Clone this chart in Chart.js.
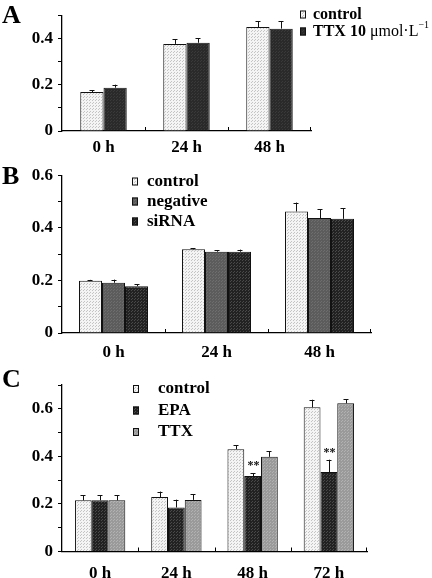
<!DOCTYPE html>
<html>
<head>
<meta charset="utf-8">
<script src="https://cdn.jsdelivr.net/npm/chart.js@4.4.1/dist/chart.umd.min.js"></script>
<style>
  body { margin: 0; background: #fff; }
  #wrap { position: relative; width: 432px; height: 578px; overflow: hidden; }
  canvas { position: absolute; left: 0; }
  .lab { position: absolute; left: 2px; font: bold 26px "Liberation Serif", serif; line-height: 26px; }
</style>
</head>
<body>
<div id="wrap">
  <canvas id="cA" width="432" height="160" style="top:0px"></canvas>
  <canvas id="cB" width="432" height="200" style="top:160px"></canvas>
  <canvas id="cC" width="432" height="218" style="top:360px"></canvas>
  <div class="lab" style="top:2px">A</div>
  <div class="lab" style="top:163px">B</div>
  <div class="lab" style="top:366px">C</div>
</div>
<script>
// panel A
const catsA = ['0 h', '24 h', '48 h'];
const aControl = [0.168, 0.376, 0.449];
const aControlErr = [0.009, 0.020, 0.026];
const aTTX = [0.187, 0.381, 0.442];
const aTTXErr = [0.013, 0.019, 0.033];

// panel B
const catsB = ['0 h', '24 h', '48 h'];
const bControl = [0.199, 0.318, 0.462];
const bControlErr = [0.003, 0.005, 0.034];
const bNegative = [0.191, 0.309, 0.437];
const bNegativeErr = [0.012, 0.005, 0.034];
const bSiRNA = [0.178, 0.309, 0.434];
const bSiRNAErr = [0.008, 0.008, 0.040];

// panel C
const catsC = ['0 h', '24 h', '48 h', '72 h'];
const cControl = [0.215, 0.229, 0.430, 0.606];
const cControlErr = [0.022, 0.023, 0.016, 0.032];
const cEPA = [0.215, 0.185, 0.317, 0.334];
const cEPAErr = [0.022, 0.033, 0.013, 0.052];
const cEPAStars = ['', '', '**', '**'];
const cTTX = [0.215, 0.217, 0.398, 0.623];
const cTTXErr = [0.022, 0.024, 0.024, 0.018];

const FONT = '"Liberation Serif", "Times New Roman", serif';

// small dotted textures like the print
function pattern(bg, dot) {
  const c = document.createElement('canvas');
  c.width = 3; c.height = 3;
  const g = c.getContext('2d');
  g.fillStyle = bg; g.fillRect(0, 0, 3, 3);
  g.fillStyle = dot; g.fillRect(0, 0, 1, 1); g.fillRect(2, 1, 1, 1);
  return g.createPattern(c, 'repeat');
}
const light = pattern('#f4f4f4', '#c4c4c4');
const dark = pattern('#222222', '#4a4a4a');
const darkA = pattern('#2a2a2a', '#3a3a3a');
const mid = pattern('#5c5c5c', '#6e6e6e');
const grey = pattern('#9a9a9a', '#b2b2b2');

// error bars (upper half only) with a small cap
const errorBars = {
  id: 'errorBars',
  afterDatasetsDraw(chart) {
    const ctx = chart.ctx;
    const y = chart.scales.y;
    ctx.save();
    ctx.strokeStyle = '#111';
    ctx.lineWidth = 1;
    ctx.fillStyle = '#111';
    ctx.font = 'bold 12px ' + FONT;
    ctx.textAlign = 'center';
    chart.data.datasets.forEach((ds, i) => {
      chart.getDatasetMeta(i).data.forEach((bar, j) => {
        const top = y.getPixelForValue(ds.data[j] + ds.errors[j]);
        const x = Math.round(bar.x) + 0.5;
        ctx.beginPath();
        ctx.moveTo(x, bar.y);
        ctx.lineTo(x, top);
        ctx.moveTo(x - 3, Math.round(top) + 0.5);
        ctx.lineTo(x + 2, Math.round(top) + 0.5);
        ctx.stroke();
        if (ds.stars && ds.stars[j]) {
          ctx.textBaseline = 'alphabetic';
          ctx.fillText(ds.stars[j], x, top - 4);
        }
      });
    });
    ctx.restore();
  }
};

// small upward ticks on the x axis between groups
const xTicks = {
  id: 'xTicks',
  afterDraw(chart) {
    const ctx = chart.ctx;
    const x = chart.scales.x;
    const n = chart.data.labels.length;
    ctx.save();
    ctx.strokeStyle = '#000';
    ctx.lineWidth = 1;
    for (let i = 1; i <= n; i++) {
      const px = i < n ? Math.round((x.getPixelForValue(i - 1) + x.getPixelForValue(i)) / 2) + 0.5 : x.right - 0.5;
      ctx.beginPath();
      ctx.moveTo(px, x.top);
      ctx.lineTo(px, x.top - 4);
      ctx.stroke();
    }
    ctx.restore();
  }
};

// legend with tiny boxes; a label can come in parts (weight / superscript)
const boxLegend = {
  id: 'boxLegend',
  afterDraw(chart, args, o) {
    const ctx = chart.ctx;
    ctx.save();
    ctx.textBaseline = 'middle';
    ctx.textAlign = 'left';
    chart.data.datasets.forEach((ds, i) => {
      const y = o.y + i * o.gap;
      ctx.fillStyle = ds.backgroundColor;
      ctx.fillRect(o.boxX, y - 4, 6, 8);
      ctx.strokeStyle = '#111';
      ctx.lineWidth = 1;
      ctx.strokeRect(o.boxX + 0.5, y - 3.5, 5, 7);
      ctx.fillStyle = '#000';
      const parts = ds.legendParts || [{ t: ds.label }];
      let x = o.textX;
      parts.forEach(p => {
        const size = p.sup ? Math.round(o.size * 0.62) : o.size;
        ctx.font = (p.w || 'bold') + ' ' + size + 'px ' + FONT;
        ctx.fillText(p.t, x, y + (p.sup ? -6 : 0));
        x += ctx.measureText(p.t).width;
      });
    });
    ctx.restore();
  }
};

function makeChart(id, labels, datasets, o) {
  return new Chart(document.getElementById(id), {
    type: 'bar',
    data: { labels: labels, datasets: datasets },
    options: {
      responsive: false,
      animation: false,
      layout: { padding: { left: 0, right: o.right, top: o.top, bottom: 0 } },
      datasets: { bar: { categoryPercentage: o.cat, barPercentage: 1, borderWidth: 1, borderColor: '#111' } },
      plugins: {
        legend: { display: false },
        tooltip: { enabled: false },
        boxLegend: o.legend
      },
      scales: {
        x: {
          afterFit: s => { s.height = o.xh; },
          grid: { display: false },
          border: { display: true, color: '#000', width: 1.3 },
          ticks: { color: '#000', padding: o.xpad, font: { family: FONT, size: 17, weight: 'bold' } }
        },
        y: {
          min: 0,
          max: o.max,
          afterFit: s => { s.width = 62; },
          afterBuildTicks: s => {
            s.ticks = [];
            for (let k = 0; k <= Math.round(o.max * 10); k++) s.ticks.push({ value: k / 10 });
          },
          grid: { drawOnChartArea: false, drawTicks: true, tickLength: 4, color: '#000' },
          border: { display: true, color: '#000', width: 1.3 },
          ticks: {
            color: '#000',
            padding: 5,
            autoSkip: false,
            font: { family: FONT, size: 17, weight: 'bold' },
            callback: v => {
              const k = Math.round(v * 10);
              if (k % 2) return '';
              return k === 0 ? '0' : (k / 10).toFixed(1);
            }
          }
        }
      }
    },
    plugins: [errorBars, xTicks, boxLegend]
  });
}

makeChart('cA', catsA, [
  { label: 'control', data: aControl, errors: aControlErr, backgroundColor: light },
  { label: 'TTX 10 \u03bcmol\u00b7L\u207b\u00b9', data: aTTX, errors: aTTXErr, backgroundColor: darkA,
    legendParts: [{ t: 'TTX 10 ' }, { t: '\u03bcmol\u00b7L', w: 'normal' }, { t: '\u22121', w: 'normal', sup: true }] }
], { right: 121, top: 15, xh: 29, xpad: -2, cat: 0.56, max: 0.5,
     legend: { boxX: 300, textX: 313, y: 14.5, gap: 17, size: 16 } });

makeChart('cB', catsB, [
  { label: 'control', data: bControl, errors: bControlErr, backgroundColor: light },
  { label: 'negative', data: bNegative, errors: bNegativeErr, backgroundColor: mid },
  { label: 'siRNA', data: bSiRNA, errors: bSiRNAErr, backgroundColor: dark }
], { right: 61, top: 15, xh: 27, xpad: 1, cat: 0.67, max: 0.6,
     legend: { boxX: 132, textX: 147, y: 21.5, gap: 20, size: 17 } });

makeChart('cC', catsC, [
  { label: 'control', data: cControl, errors: cControlErr, backgroundColor: light },
  { label: 'EPA', data: cEPA, errors: cEPAErr, stars: cEPAStars, backgroundColor: dark },
  { label: 'TTX', data: cTTX, errors: cTTXErr, backgroundColor: grey }
], { right: 65, top: 25, xh: 26.5, xpad: 4, cat: 0.66, max: 0.7,
     legend: { boxX: 133, textX: 158, y: 29, gap: 21.5, size: 17 } });
</script>
</body>
</html>
